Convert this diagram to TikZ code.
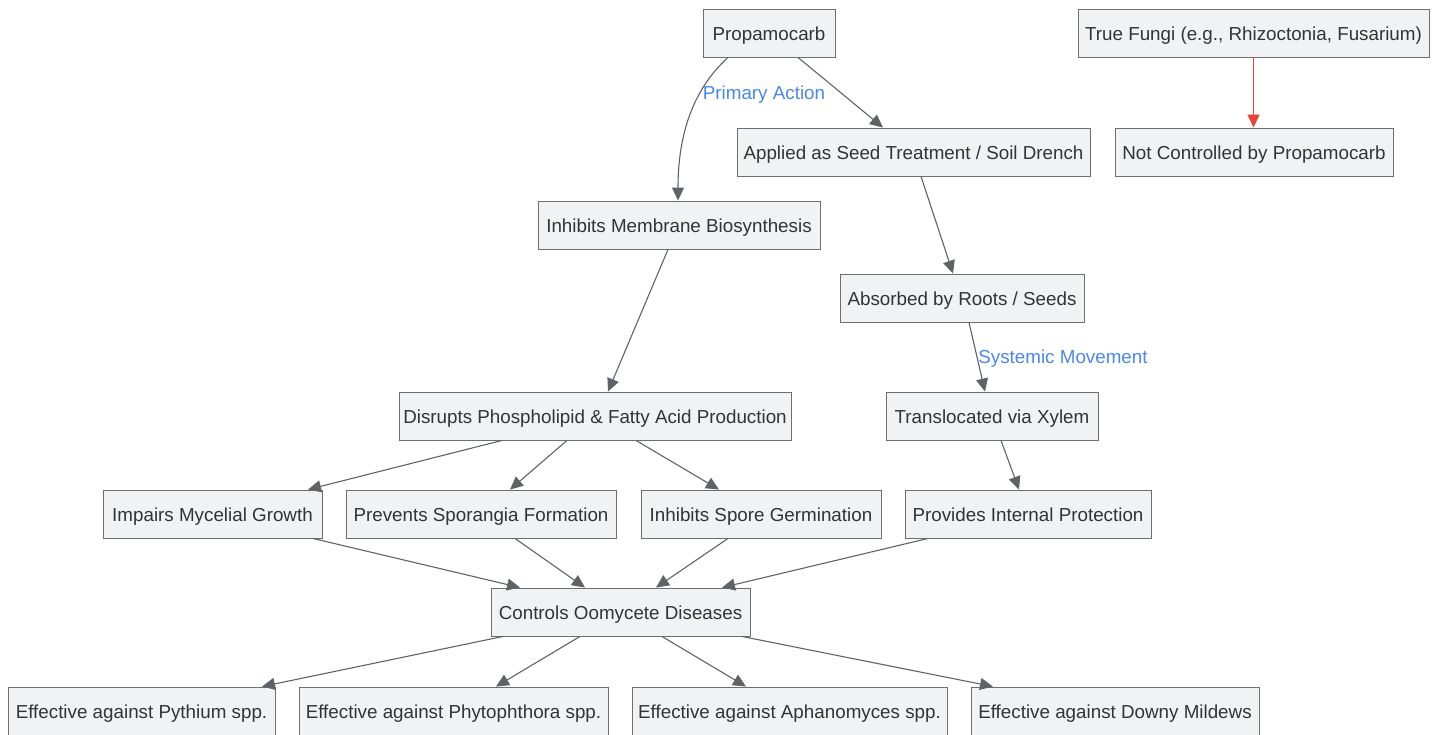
\documentclass[tikz,border=0pt]{standalone}
\usepackage{fontspec}
\setmainfont{Liberation Sans}
\usetikzlibrary{arrows.meta,calc}
\definecolor{boxfill}{HTML}{F1F2F4}
\definecolor{boxline}{HTML}{6E6E6E}
\definecolor{edgecol}{HTML}{5F6368}
\definecolor{txtcol}{HTML}{333333}
\definecolor{lblcol}{HTML}{4A86F0}
\definecolor{redcol}{HTML}{EA4335}
\tikzset{
  box/.style={draw=boxline, fill=boxfill, line width=0.9pt, minimum height=48pt, inner sep=0pt, text height=15pt, text depth=1pt, text=txtcol, font=\fontsize{18.8pt}{22pt}\selectfont, anchor=center},
  edge/.style={draw=edgecol, line width=1.1pt, -{Triangle[length=13pt,width=12pt]}},
  redge/.style={draw=redcol, line width=1.1pt, -{Triangle[length=13pt,width=12pt]}},
  lbl/.style={text=lblcol, font=\fontsize{18.8pt}{22pt}\selectfont, inner sep=1pt}
}
\begin{document}
\begin{tikzpicture}[x=1pt,y=-1pt]
\useasboundingbox (0,0) rectangle (1438,734);
\node[box, minimum width=132pt] (prop) at (769,33) {Propamocarb};
\node[box, minimum width=351pt] (fungi) at (1253.5,33) {True Fungi (e.g., Rhizoctonia, Fusarium)};
\node[box, minimum width=353pt] (appl) at (913.5,152) {Applied as Seed Treatment / Soil Drench};
\node[box, minimum width=278pt] (notc) at (1254,152) {Not Controlled by Propamocarb};
\node[box, minimum width=282pt] (memb) at (679,225) {Inhibits Membrane Biosynthesis};
\node[box, minimum width=244pt] (abs) at (962,298) {Absorbed by Roots / Seeds};
\node[box, minimum width=392pt] (disr) at (595,416) {Disrupts Phospholipid \& Fatty Acid Production};
\node[box, minimum width=212pt] (xyl) at (992,416) {Translocated via Xylem};
\node[box, minimum width=219pt] (myc) at (212.5,514) {Impairs Mycelial Growth};
\node[box, minimum width=270pt] (spor) at (481,514) {Prevents Sporangia Formation};
\node[box, minimum width=240pt] (germ) at (761,514) {Inhibits Spore Germination};
\node[box, minimum width=246pt] (prot) at (1028,514) {Provides Internal Protection};
\node[box, minimum width=259pt] (ctrl) at (620.5,612) {Controls Oomycete Diseases};
\node[box, minimum width=267pt] (pyth) at (141.5,711) {Effective against Pythium spp.};
\node[box, minimum width=309pt] (phyt) at (453.5,711) {Effective against Phytophthora spp.};
\node[box, minimum width=315pt] (apha) at (789.5,711) {Effective against Aphanomyces spp.};
\node[box, minimum width=288pt] (down) at (1115,711) {Effective against Downy Mildews};

% edges
\draw[edge] ([xshift=-41pt]prop.south) .. controls (690,92) and (678,140) .. ([xshift=-1pt]memb.north);
\node[lbl] (lpa) at (764,95) {Primary Action};
\draw[edge] ([xshift=29pt]prop.south) -- ([xshift=-30.5pt]appl.north);
\draw[edge] ([xshift=7.5pt]appl.south) -- ([xshift=-9pt]abs.north);
\draw[edge] ([xshift=-11pt]memb.south) -- ([xshift=13pt]disr.north);
\draw[edge] ([xshift=7pt]abs.south) -- ([xshift=-7pt]xyl.north);
\node[lbl] (lsm) at (1063,359) {Systemic Movement};
\draw[redge] (fungi.south) -- ([xshift=-0.5pt]notc.north);

\draw[edge] ([xshift=-93pt]disr.south) -- ([xshift=95.5pt]myc.north);
\draw[edge] ([xshift=-28pt]disr.south) -- ([xshift=29pt]spor.north);
\draw[edge] ([xshift=41pt]disr.south) -- ([xshift=-42pt]germ.north);
\draw[edge] ([xshift=9pt]xyl.south) -- ([xshift=-9pt]prot.north);

\draw[edge] ([xshift=100.5pt]myc.south) -- ([xshift=-100.5pt]ctrl.north);
\draw[edge] ([xshift=34pt]spor.south) -- ([xshift=-35.5pt]ctrl.north);
\draw[edge] ([xshift=-33pt]germ.south) -- ([xshift=35.5pt]ctrl.north);
\draw[edge] ([xshift=-100pt]prot.south) -- ([xshift=101.5pt]ctrl.north);

\draw[edge] ([xshift=-117.5pt]ctrl.south) -- ([xshift=120.5pt]pyth.north);
\draw[edge] ([xshift=-40.5pt]ctrl.south) -- ([xshift=42.5pt]phyt.north);
\draw[edge] ([xshift=41.5pt]ctrl.south) -- ([xshift=-43.5pt]apha.north);
\draw[edge] ([xshift=121.5pt]ctrl.south) -- ([xshift=-122pt]down.north);
\end{tikzpicture}
\end{document}
